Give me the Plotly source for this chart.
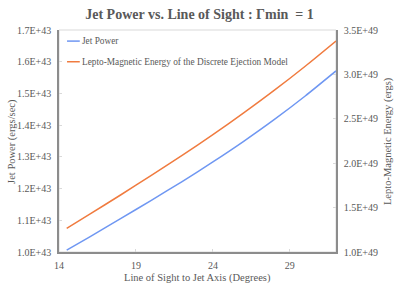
import plotly.graph_objects as go

angle_deg = [14.5, 16, 18, 20, 22, 24, 26, 28, 30, 32]
jet_power = [1.006e43, 1.048e43, 1.105e43, 1.163e43, 1.222e43, 1.284e43, 1.349e43, 1.418e43, 1.492e43, 1.571e43]
lepto_energy = [1.267e49, 1.426e49, 1.642e49, 1.862e49, 2.088e49, 2.322e49, 2.566e49, 2.822e49, 3.092e49, 3.376e49]
series_names = ["Jet Power", "Lepto-Magnetic Energy of the Discrete Ejection Model"]

left_tickvals = [1.0e43, 1.1e43, 1.2e43, 1.3e43, 1.4e43, 1.5e43, 1.6e43, 1.7e43]
left_ticktext = ["1.0E+43", "1.1E+43", "1.2E+43", "1.3E+43", "1.4E+43", "1.5E+43", "1.6E+43", "1.7E+43"]
right_tickvals = [1.0e49, 1.5e49, 2.0e49, 2.5e49, 3.0e49, 3.5e49]
right_ticktext = ["1.0E+49", "1.5E+49", "2.0E+49", "2.5E+49", "3.0E+49", "3.5E+49"]
x_tickvals = [14, 19, 24, 29]

FONT = "Liberation Serif"
GREY = "#595959"
AXIS = "#8c8c8c"
COLORS = ["#6f97f2", "#f07b3f"]

fig = go.Figure()
fig.add_trace(go.Scatter(x=angle_deg, y=jet_power, mode="lines", name=series_names[0],
                         line=dict(color=COLORS[0], width=1.5, shape="spline", smoothing=0.6), yaxis="y"))
fig.add_trace(go.Scatter(x=angle_deg, y=lepto_energy, mode="lines", name=series_names[1],
                         line=dict(color=COLORS[1], width=1.5, shape="spline", smoothing=0.6), yaxis="y2"))

# legend drawn inside the plot, Excel style (short line + text)
legend_y = [0.950, 0.857]
annotations = []
shapes = [dict(type="rect", xref="paper", yref="paper", x0=0, x1=1, y0=0, y1=1,
               line=dict(color="#d9d9d9", width=1), layer="below")]
for name, color, ly in zip(series_names, COLORS, legend_y):
    shapes.append(dict(type="line", xref="paper", yref="paper", x0=0.029, x1=0.075, y0=ly, y1=ly,
                       line=dict(color=color, width=1.5)))
    annotations.append(dict(text=name, xref="paper", yref="paper", x=0.075, y=ly,
                            xanchor="left", yanchor="middle", showarrow=False,
                            font=dict(family=FONT, size=9.3, color=GREY)))

# axis titles
title_font = dict(family=FONT, size=10.5, color=GREY)
annotations += [
    dict(text="Line of Sight to Jet Axis (Degrees)", xref="paper", yref="paper", x=0.5, y=-0.117,
         xanchor="center", yanchor="middle", showarrow=False, font=title_font),
    dict(text="Jet Power (ergs/sec)", xref="paper", yref="paper", x=-0.170, y=0.5, textangle=-90,
         xanchor="center", yanchor="middle", showarrow=False, font=title_font),
    dict(text="Lepto-Magnetic Energy (ergs)", xref="paper", yref="paper", x=1.188, y=0.5, textangle=-90,
         xanchor="center", yanchor="middle", showarrow=False, font=title_font),
]

tick_common = dict(ticks="inside", ticklen=3, tickcolor="#d9d9d9",
                   tickfont=dict(family=FONT, size=10, color=GREY), automargin=False,
                   showgrid=False, zeroline=False, showline=True, linecolor=AXIS, linewidth=1.5)

fig.update_layout(
    width=399, height=289,
    margin=dict(l=59, r=63, t=30, b=37),
    paper_bgcolor="white", plot_bgcolor="white",
    font=dict(family=FONT, color=GREY, size=10),
    title=dict(text="<b>Jet Power vs. Line of Sight : \u0393min \u00a0= 1</b>", x=0.5, xanchor="center",
               y=0.952, yanchor="middle", font=dict(family=FONT, size=14, color=GREY)),
    showlegend=False,
    shapes=shapes,
    annotations=annotations,
    xaxis=dict(range=[14, 32], tickvals=x_tickvals, ticklabelstandoff=3, **tick_common),
    yaxis=dict(range=[1.0e43, 1.7e43], tickvals=left_tickvals, ticktext=left_ticktext,
               ticklabelstandoff=4, **tick_common),
    yaxis2=dict(range=[1.0e49, 3.5e49], tickvals=right_tickvals, ticktext=right_ticktext,
                overlaying="y", side="right", ticklabelstandoff=4, **tick_common),
)

fig.write_html("out.html", config={"displayModeBar": False},
               post_script="document.body.style.margin='0';document.body.style.overflow='hidden';")
